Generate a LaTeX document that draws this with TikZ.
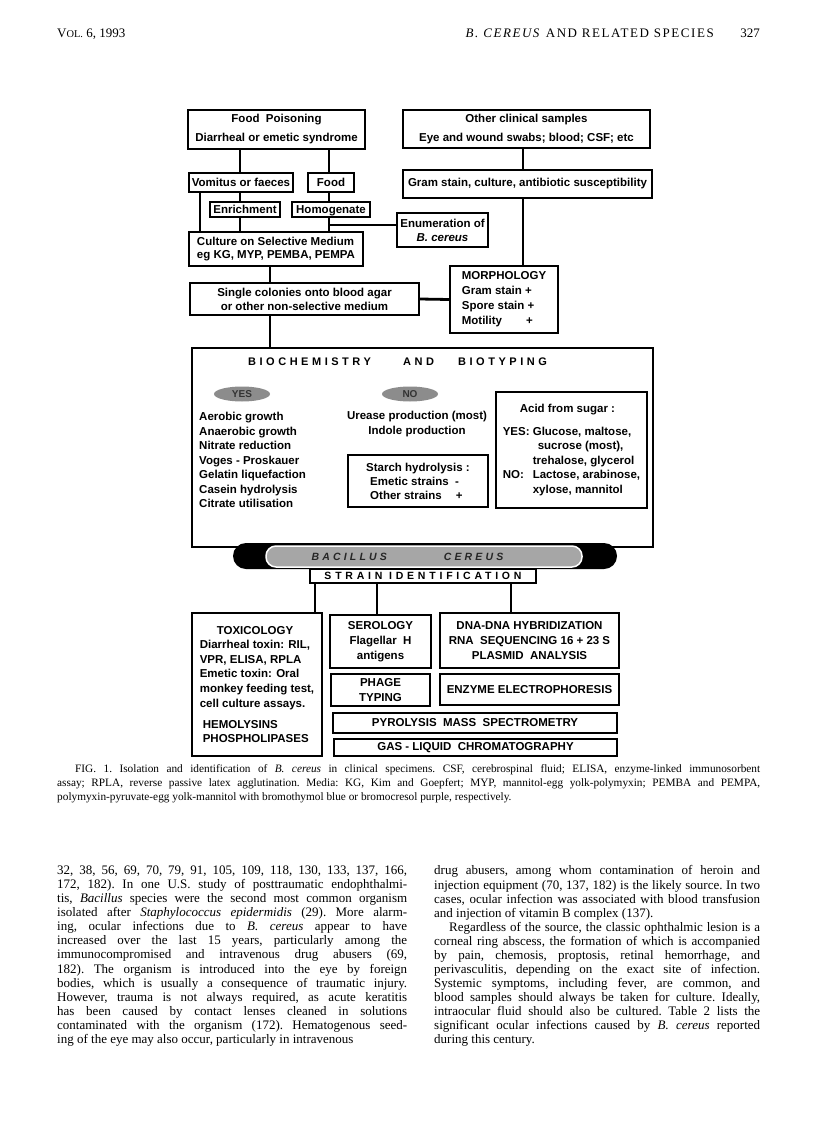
\documentclass[tikz,border=0pt]{standalone}
\usepackage{fontspec}
\setmainfont{Liberation Serif}
\newfontfamily\headsp{Liberation Serif}[LetterSpace=12]
\newfontfamily\flow{Liberation Sans}
\newfontfamily\flowsp{Liberation Sans}[LetterSpace=32]
\newfontfamily\flowsq{Liberation Sans}[LetterSpace=36]
\newfontfamily\flowbc{Liberation Sans}[LetterSpace=30]
\usetikzlibrary{positioning,shapes.geometric}
\newcommand{\flowfont}{\flow\bfseries\fontsize{11.5}{15}\selectfont}
\tikzset{
  box/.style  ={draw, line width=1.4pt, inner sep=0pt, align=center, font=\flowfont},
  txt/.style  ={inner sep=0pt, align=left, font=\flowfont},
  ttl/.style  ={inner sep=0pt, anchor=west, font=\flowsp\bfseries\fontsize{11}{12}\selectfont},
  oval/.style ={ellipse, fill=black!45, inner sep=0pt, minimum width=56,
                minimum height=15, text=black!80, font=\flow\bfseries\fontsize{10}{11}\selectfont},
  ln/.style   ={line width=1.4pt},
  thk/.style  ={line width=2.8pt},
  pill/.style ={fill=black, rounded corners=13pt, minimum width=384, minimum height=26, inner sep=0pt},
  bacin/.style={fill=black!35, draw=white, line width=1.5pt, rounded corners=10pt,
                minimum width=316, minimum height=21, inner sep=0pt, text=black!85,
                font=\flowbc\bfseries\itshape\fontsize{10.5}{12}\selectfont},
  hdr/.style  ={inner sep=0pt, font=\fontsize{13}{15}\selectfont},
  body/.style ={inner sep=0pt, anchor=north west, align=justify,
                font=\fontsize{13}{14.08}\selectfont,
                execute at begin node={\frenchspacing\tolerance=10000\hyphenpenalty=10000}},
  capt/.style ={body, font=\fontsize{11.3}{13.8}\selectfont},
}

\begin{document}
\begin{tikzpicture}[x=1pt,y=-1pt]
  \fill[white] (0,0) rectangle (816,1132);
  \useasboundingbox (0,0) rectangle (816,1132);

  % running head
  \node[hdr, anchor=base west] (vol) at (57,38) {V{\fontsize{10.4}{12}\selectfont OL.} 6, 1993};
  \node[hdr, anchor=base east] (pg) at (760,38) {327};
  \node[hdr, anchor=base east, font=\headsp\fontsize{13}{15}\selectfont] (run) at (714,38)
        {\textit{B. CEREUS} AND RELATED SPECIES};

  % x positions of the vertical connectors
  \coordinate (lx) at (200,0);
  \coordinate (vx) at (240,0);
  \coordinate (cx) at (270,0);
  \coordinate (hx) at (329,0);
  \coordinate (gx) at (523,0);
  \coordinate (s1) at (315,0);
  \coordinate (s2) at (377,0);
  \coordinate (s3) at (511,0);

  % sources
  \node[box, minimum width=177, minimum height=39] (food) at (276.5,129.5)
        {Food\ \ Poisoning\\[4pt]Diarrheal or emetic syndrome};
  \node[box, minimum width=247, minimum height=38] (other) at (526.5,129)
        {Other clinical samples\\[4pt]Eye and wound swabs; blood; CSF; etc};
  \node[box, minimum width=249, minimum height=28] (gram) at (527.5,184)
        {Gram stain, culture, antibiotic susceptibility};
  \node[box, minimum width=104, minimum height=19] (vom) at (241,182.5) {Vomitus or faeces};
  \node[box, minimum width=46, minimum height=19] (fd) at (331,182.5) {Food};
  \node[box, minimum width=70, minimum height=15, text depth=0pt] (enr) at (245,209.5) {Enrichment};
  \node[box, minimum width=78, minimum height=15, text depth=0pt] (hom) at (331,209.5) {Homogenate};
  \node[box, minimum width=91, minimum height=34] (enum) at (442.5,230)
        {Enumeration of\\[-1pt]\textit{B. cereus}};
  \node[box, align=left, minimum width=174, minimum height=34] (cult) at (276,249)
        {Culture on Selective Medium\\[-1.5pt]eg KG, MYP, PEMBA, PEMPA};
  \node[box, minimum width=229, minimum height=32] (single) at (304.5,299)
        {Single colonies onto blood agar\\[-1pt]or other non-selective medium};
  \node[box, align=left, minimum width=108, minimum height=67] (morph) at (504,299.5)
        {MORPHOLOGY\\Gram stain +\\Spore stain +\\Motility\hspace{24pt}+};

  \draw[ln] (vx |- food.south) -- (vx |- vom.north);
  \draw[ln] (hx |- food.south) -- (hx |- fd.north);
  \draw[ln] (gx |- other.south) -- (gx |- gram.north);
  \draw[ln] (vx |- vom.south) -- (vx |- enr.north);
  \draw[ln] (vx |- enr.south) -- (vx |- cult.north);
  \draw[ln] (lx |- vom.south) -- (lx |- cult.north);
  \draw[ln] (hx |- fd.south) -- (hx |- hom.north);
  \draw[ln] (hx |- hom.south) -- (hx |- cult.north);
  \coordinate (hj) at (329,225);
  \draw[ln] (hj) -- (hj -| enum.west);
  \draw[ln] (cx |- cult.south) -- (cx |- single.north);
  \draw[thk] (gx |- gram.south) -- (gx |- morph.north);
  \draw[thk] (single.east) -- (morph.west);

  % biochemistry
  \node[box, minimum width=461, minimum height=199] (bio) at (422.5,447.5) {};
  \draw[thk] (cx |- single.south) -- (cx |- bio.north);
  \node[ttl] (bt1) at (248,362) {BIOCHEMISTRY};
  \node[ttl] (bt2) at (403,362) {AND};
  \node[ttl] (bt3) at (458,362) {BIOTYPING};
  \node[oval] (yes) at (242,394) {YES};
  \node[oval] (no) at (410,394) {NO};
  \node[txt, anchor=north west, font=\flow\bfseries\fontsize{11.5}{14.5}\selectfont] (yesl) at (199,412)
        {Aerobic growth\\Anaerobic growth\\Nitrate reduction\\Voges - Proskauer\\
         Gelatin liquefaction\\Casein hydrolysis\\Citrate utilisation};
  \node[txt, align=center, anchor=north] (nol) at (417,411)
        {Urease production (most)\\Indole production};
  \node[box, align=left, minimum width=140, minimum height=52,
        font=\flow\bfseries\fontsize{11.5}{14}\selectfont] (starch) at (418,481)
        {Starch hydrolysis :\\\hspace*{4pt}Emetic strains\ \ -\\\hspace*{4pt}Other strains\hspace{14pt}+};
  \node[box, align=left, minimum width=151, minimum height=116,
        font=\flow\bfseries\fontsize{11.5}{14.5}\selectfont] (acid) at (571.5,450)
        {\hspace*{17pt}Acid from sugar :\\[8.5pt]
         \makebox[30pt][l]{YES:}Glucose, maltose,\\
         \hspace*{35pt}sucrose (most),\\
         \hspace*{30pt}trehalose, glycerol\\
         \makebox[30pt][l]{NO:}Lactose, arabinose,\\
         \hspace*{30pt}xylose, mannitol};

  % species band
  \node[pill] (bac) at (425,556) {};
  \node[bacin] (bacl) at (424,556.5) {BACILLUS\hspace{57pt}CEREUS\hspace*{33pt}};
  \node[box, minimum width=226, minimum height=14,
        font=\flowsq\bfseries\fontsize{10.5}{12}\selectfont] (strain) at (423,576)
        {STRAIN IDENTIFICATION};

  % identification methods
  \node[box, align=left, minimum width=130, minimum height=143,
        font=\flow\bfseries\fontsize{11.5}{14.6}\selectfont] (tox) at (257,684.5)
        {\hspace*{17pt}TOXICOLOGY\\Diarrheal toxin: RIL,\\VPR, ELISA, RPLA\\Emetic toxin: Oral\\
         monkey feeding test,\\cell culture assays.\\[6.4pt]
         \hspace*{3pt}HEMOLYSINS\\\hspace*{3pt}PHOSPHOLIPASES};
  \node[box, minimum width=101, minimum height=53] (sero) at (380.5,641.5)
        {SEROLOGY\\Flagellar\ \ H\\antigens};
  \node[box, minimum width=179, minimum height=55] (dna) at (529.5,640.5)
        {DNA-DNA HYBRIDIZATION\\RNA\ \ SEQUENCING 16 + 23 S\\PLASMID\ \ ANALYSIS};
  \node[box, minimum width=99, minimum height=32] (phage) at (380.5,690) {PHAGE\\TYPING};
  \node[box, minimum width=179, minimum height=31] (enz) at (529.5,689.5)
        {ENZYME ELECTROPHORESIS};
  \node[box, minimum width=284, minimum height=20] (pyro) at (475,723)
        {PYROLYSIS\ \ MASS\ \ SPECTROMETRY};
  \node[box, minimum width=283, minimum height=17] (gas) at (475.5,747.5)
        {GAS - LIQUID\ \ CHROMATOGRAPHY};
  \foreach \c/\tg in {s1/tox, s2/sero, s3/dna}
    \draw[ln] (\c |- strain.south) -- (\c |- \tg.north);

  % legend
  \node[capt, text width=703] (legend) at (57,764.5)
        {\hspace*{18pt}FIG. 1. Isolation and identification of \textit{B. cereus} in clinical specimens. CSF, cerebrospinal fluid; ELISA, enzyme-linked immunosorbent\linebreak
         assay; RPLA, reverse passive latex agglutination. Media: KG, Kim and Goepfert; MYP, mannitol-egg yolk-polymyxin; PEMBA and PEMPA,\linebreak
         polymyxin-pyruvate-egg yolk-mannitol with bromothymol blue or bromocresol purple, respectively.};

  % running text
  \node[body, text width=350] (colL) at (57,865.6)
        {\parfillskip=0pt 32, 38, 56, 69, 70, 79, 91, 105, 109, 118, 130, 133, 137, 166,\linebreak
         172, 182). In one U.S. study of posttraumatic endophthalmi-\linebreak
         tis, \textit{Bacillus} species were the second most common organism\linebreak
         isolated after \textit{Staphylococcus epidermidis} (29). More alarm-\linebreak
         ing, ocular infections due to \textit{B. cereus} appear to have\linebreak
         increased over the last 15 years, particularly among the\linebreak
         immunocompromised and intravenous drug abusers (69,\linebreak
         182). The organism is introduced into the eye by foreign\linebreak
         bodies, which is usually a consequence of traumatic injury.\linebreak
         However, trauma is not always required, as acute keratitis\linebreak
         has been caused by contact lenses cleaned in solutions\linebreak
         contaminated with the organism (172). Hematogenous seed-\linebreak
         ing of the eye may also occur, particularly in intravenous};
  \node[body, text width=326] (colR) at (434,865.6)
        {drug abusers, among whom contamination of heroin and\linebreak
         injection equipment (70, 137, 182) is the likely source. In two\linebreak
         cases, ocular infection was associated with blood transfusion\linebreak
         and injection of vitamin B complex (137).\par
         \hspace*{15pt}Regardless of the source, the classic ophthalmic lesion is a\linebreak
         corneal ring abscess, the formation of which is accompanied\linebreak
         by pain, chemosis, proptosis, retinal hemorrhage, and\linebreak
         perivasculitis, depending on the exact site of infection.\linebreak
         Systemic symptoms, including fever, are common, and\linebreak
         blood samples should always be taken for culture. Ideally,\linebreak
         intraocular fluid should also be cultured. Table 2 lists the\linebreak
         significant ocular infections caused by \textit{B. cereus} reported\linebreak
         during this century.};
\end{tikzpicture}
\end{document}
